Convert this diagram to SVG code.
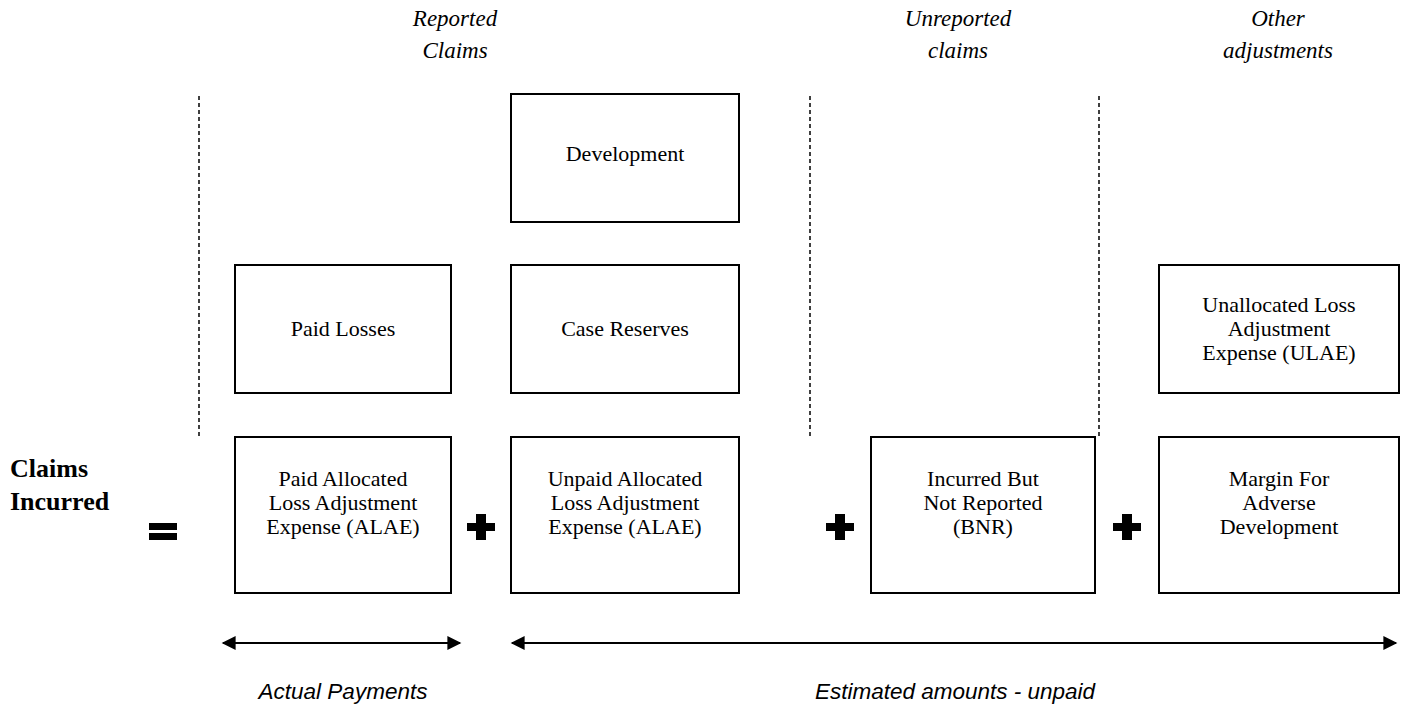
<svg xmlns="http://www.w3.org/2000/svg" width="1407" height="707" viewBox="0 0 1407 707">
<defs>
<style>
.box{fill:#fff;stroke:#000;stroke-width:2}
.t{font-family:"Liberation Serif","Times New Roman",serif;font-size:22px;text-anchor:middle;fill:#000}
.hd{font-family:"Liberation Serif","Times New Roman",serif;font-size:23px;font-style:italic;text-anchor:middle;fill:#000}
.ft{font-family:"Liberation Sans",Arial,sans-serif;font-size:22.5px;font-style:italic;text-anchor:middle;fill:#000}
.lbl{font-family:"Liberation Serif","Times New Roman",serif;font-size:26px;font-weight:bold;fill:#000}
.dash{stroke:#000;stroke-width:1.5;stroke-dasharray:4 3;fill:none}
.arr{stroke:#000;stroke-width:2;fill:none;marker-start:url(#ah);marker-end:url(#ah)}
.op{fill:#000}
</style>
<marker id="ah" viewBox="0 0 10 10" refX="9" refY="5" markerWidth="7.5" markerHeight="7" orient="auto-start-reverse" markerUnits="strokeWidth">
<path d="M0,0 L10,5 L0,10 Z" fill="#000"/>
</marker>
</defs>
<rect width="1407" height="707" fill="#fff"/>

<g id="headers">
<text class="hd" x="455" y="26">Reported</text>
<text class="hd" x="455" y="58">Claims</text>
<text class="hd" x="958" y="26">Unreported</text>
<text class="hd" x="958" y="58">claims</text>
<text class="hd" x="1278" y="26">Other</text>
<text class="hd" x="1278" y="58">adjustments</text>
</g>

<g id="dividers">
<line class="dash" x1="199" y1="96" x2="199" y2="437"/>
<line class="dash" x1="810" y1="96" x2="810" y2="437"/>
<line class="dash" x1="1099" y1="96" x2="1099" y2="437"/>
</g>

<g id="claims-incurred">
<text class="lbl" x="10" y="477">Claims</text>
<text class="lbl" x="10" y="510">Incurred</text>
</g>

<g id="operators">
<rect class="op" x="149" y="523" width="28" height="7"/>
<rect class="op" x="149" y="533" width="28" height="7"/>
<path class="op" d="M476,514 h10 v9 h9 v8 h-9 v9 h-10 v-9 h-9 v-8 h9 z"/>
<path class="op" d="M835,514 h10 v9 h9 v8 h-9 v9 h-10 v-9 h-9 v-8 h9 z"/>
<path class="op" d="M1122,514 h10 v9 h9 v8 h-9 v9 h-10 v-9 h-9 v-8 h9 z"/>
</g>

<g id="development">
<rect class="box" x="511" y="94" width="228" height="128"/>
<text class="t" x="625" y="161">Development</text>
</g>

<g id="paid-losses">
<rect class="box" x="235" y="265" width="216" height="128"/>
<text class="t" x="343" y="336">Paid Losses</text>
</g>

<g id="case-reserves">
<rect class="box" x="511" y="265" width="228" height="128"/>
<text class="t" x="625" y="336">Case Reserves</text>
</g>

<g id="ulae">
<rect class="box" x="1159" y="265" width="240" height="128"/>
<text class="t" x="1279" y="312">Unallocated Loss</text>
<text class="t" x="1279" y="336">Adjustment</text>
<text class="t" x="1279" y="360">Expense (ULAE)</text>
</g>

<g id="paid-alae">
<rect class="box" x="235" y="437" width="216" height="156"/>
<text class="t" x="343" y="486">Paid Allocated</text>
<text class="t" x="343" y="510">Loss Adjustment</text>
<text class="t" x="343" y="534">Expense (ALAE)</text>
</g>

<g id="unpaid-alae">
<rect class="box" x="511" y="437" width="228" height="156"/>
<text class="t" x="625" y="486">Unpaid Allocated</text>
<text class="t" x="625" y="510">Loss Adjustment</text>
<text class="t" x="625" y="534">Expense (ALAE)</text>
</g>

<g id="ibnr">
<rect class="box" x="871" y="437" width="224" height="156"/>
<text class="t" x="983" y="486">Incurred But</text>
<text class="t" x="983" y="510">Not Reported</text>
<text class="t" x="983" y="534">(BNR)</text>
</g>

<g id="margin">
<rect class="box" x="1159" y="437" width="240" height="156"/>
<text class="t" x="1279" y="486">Margin For</text>
<text class="t" x="1279" y="510">Adverse</text>
<text class="t" x="1279" y="534">Development</text>
</g>

<g id="connectors">
<line class="arr" x1="223" y1="643" x2="460" y2="643"/>
<line class="arr" x1="512" y1="643" x2="1396" y2="643"/>
</g>

<g id="footers">
<text class="ft" x="343" y="699">Actual Payments</text>
<text class="ft" x="955" y="699">Estimated amounts - unpaid</text>
</g>
</svg>
